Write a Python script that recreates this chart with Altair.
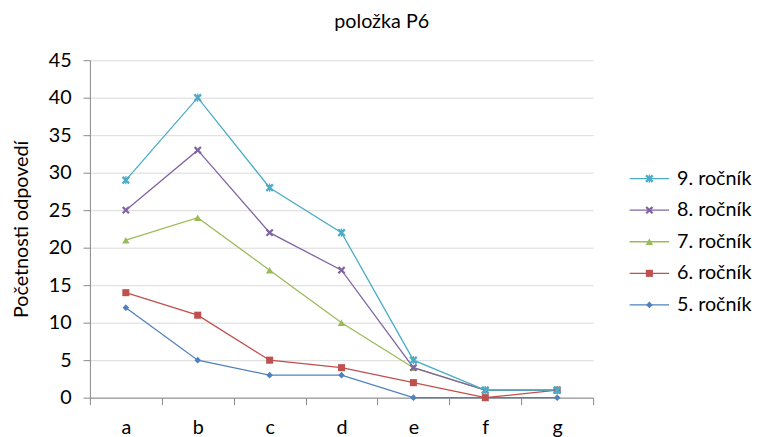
import altair as alt
import pandas as pd

categories = ["a", "b", "c", "d", "e", "f", "g"]
series_names = ["5. ročník", "6. ročník", "7. ročník", "8. ročník", "9. ročník"]
s5 = [12, 5, 3, 3, 0, 0, 0]
s6 = [14, 11, 5, 4, 2, 0, 1]
s7 = [21, 24, 17, 10, 4, 1, 1]
s8 = [25, 33, 22, 17, 4, 1, 1]
s9 = [29, 40, 28, 22, 5, 1, 1]
all_series = [s5, s6, s7, s8, s9]
y_ticks = [0, 5, 10, 15, 20, 25, 30, 35, 40, 45]

colors = ["#4F81BD", "#C0504D", "#9BBB59", "#8064A2", "#4BACC6"]
x_path = "M -1,-0.6 L -0.6,-1 L 0,-0.4 L 0.6,-1 L 1,-0.6 L 0.4,0 L 1,0.6 L 0.6,1 L 0,0.4 L -0.6,1 L -1,0.6 L -0.4,0 Z"
star_path = x_path + " M -0.15,-1 L 0.15,-1 L 0.15,1 L -0.15,1 Z"
shapes = ["diamond", "square", "triangle-up", x_path, star_path]
sizes = [45, 70, 70, 45, 55]

rows = []
for name, vals in zip(series_names, all_series):
    for c, v in zip(categories, vals):
        rows.append({"cat": c, "value": v, "series": name})
df = pd.DataFrame(rows)

FONT = "Lato"
AX = "#868686"

color_scale = alt.Scale(domain=series_names, range=colors)
shape_scale = alt.Scale(domain=series_names, range=shapes)
size_scale = alt.Scale(domain=series_names, range=sizes)

base = alt.Chart(df).encode(
    x=alt.X(
        "cat:N", sort=categories, bandPosition=0.5,
        scale=alt.Scale(type="band", paddingInner=0, paddingOuter=0),
        axis=alt.Axis(title=None, tickBand="extent", labelAngle=0, labelFontSize=20,
                      labelPadding=13, tickSize=7, domainColor=AX, tickColor=AX,
                      grid=False, labelColor="#000", labelFont=FONT),
    ),
    y=alt.Y(
        "value:Q", scale=alt.Scale(domain=[0, 45], nice=False),
        axis=alt.Axis(values=y_ticks, title="Početnosti odpovedí", titleFontSize=20,
                      titleFont=FONT, titleFontWeight="normal", titleColor="#000",
                      titlePadding=17, labelFontSize=20, labelFont=FONT, labelColor="#000",
                      labelPadding=12, tickSize=7, domainColor=AX, tickColor=AX,
                      gridColor="#D9D9D9"),
    ),
    color=alt.Color("series:N", scale=color_scale, legend=None),
)

lines = base.mark_line(strokeWidth=1.3)
points = base.mark_point(filled=True, opacity=1).encode(
    shape=alt.Shape("series:N", scale=shape_scale, legend=None),
    size=alt.Size("series:O", scale=size_scale, legend=None),
)
plot = alt.layer(lines, points).properties(width=510, height=342)

legend_order = list(reversed(series_names))
leg_df = pd.DataFrame({"series": legend_order})
leg_y = alt.Y("series:N", sort=legend_order, scale=alt.Scale(type="point", range=[104, 264]), axis=None)
leg_base = alt.Chart(leg_df).encode(y=leg_y)
leg_rule = leg_base.mark_rule(strokeWidth=1.3).encode(
    x=alt.value(0), x2=alt.value(40),
    color=alt.Color("series:N", scale=color_scale, legend=None),
)
leg_pt = leg_base.mark_point(filled=True, opacity=1).encode(
    x=alt.value(20),
    color=alt.Color("series:N", scale=color_scale, legend=None),
    shape=alt.Shape("series:N", scale=shape_scale, legend=None),
    size=alt.Size("series:O", scale=size_scale, legend=None),
)
leg_txt = leg_base.mark_text(align="left", baseline="middle", fontSize=20, font=FONT, color="#000").encode(
    x=alt.value(48), text="series:N"
)
legend = alt.layer(leg_rule, leg_pt, leg_txt).properties(width=120, height=342)

chart = alt.hconcat(plot, legend, spacing=35).resolve_scale(
    x="independent", y="independent"
).properties(
    title=alt.TitleParams("položka P6", fontSize=20, font=FONT, fontWeight="normal",
                          color="#000", anchor="middle", offset=19),
    padding={"left": 3, "top": 1, "right": 0, "bottom": 0},
).configure_view(stroke=None)

chart.save("out.html", embed_options={"renderer": "svg", "actions": False})
